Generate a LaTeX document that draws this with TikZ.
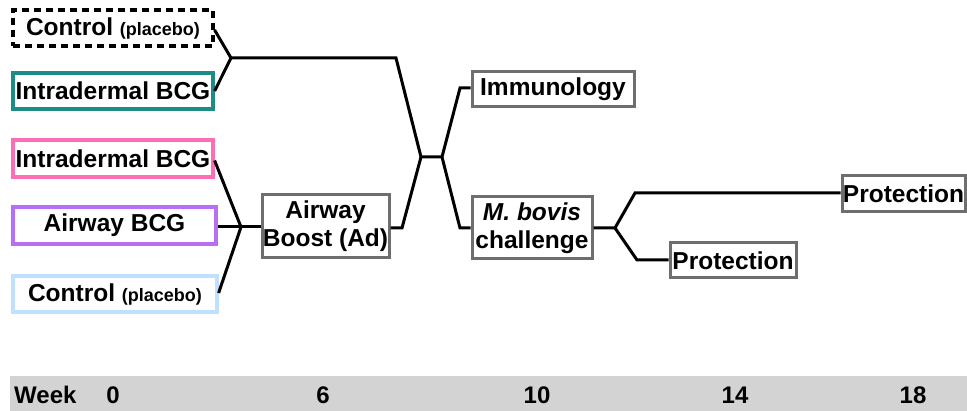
\documentclass[tikz,border=0pt]{standalone}
\usepackage{fontspec}
\setmainfont{Liberation Sans}
\definecolor{tealc}{HTML}{1E8C86}
\definecolor{pinkc}{HTML}{FF6EB4}
\definecolor{purplec}{HTML}{B86EF5}
\definecolor{bluec}{HTML}{BFE0FF}
\definecolor{boxgray}{HTML}{6E6E6E}
\definecolor{barc}{HTML}{D3D3D3}
\begin{document}
\begin{tikzpicture}[x=1pt,y=-1pt,
  box/.style={draw=boxgray,line width=3pt,fill=white,inner sep=0pt,align=center,
    font=\fontsize{24.5}{28}\selectfont\bfseries},
  grp/.style={box,line width=3.2pt},
  conn/.style={line width=3pt,black,line join=miter},
  wk/.style={font=\fontsize{24}{26}\selectfont\bfseries,inner sep=0pt}]
\useasboundingbox (0,0) rectangle (967,411);
% week bar
\fill[barc] (10,376) rectangle (967,411);
\node[wk,anchor=west] (week) at (14,395) {Week};
\node[wk] (w0) at (113,395) {0};
\node[wk] (w6) at (323,395) {6};
\node[wk] (w10) at (537,395) {10};
\node[wk] (w14) at (735,395) {14};
\node[wk] (w18) at (913,395) {18};
% group boxes
\node[grp,draw=black,dashed,dash pattern=on 7pt off 5pt,minimum width=200pt,minimum height=36pt] (c1) at (113,28) {Control {\fontsize{18}{20}\selectfont(placebo)}};
\node[grp,draw=tealc,minimum width=200pt,minimum height=36pt] (id1) at (113,91) {Intradermal BCG};
\node[grp,draw=pinkc,minimum width=200pt,minimum height=37pt] (id2) at (113,158.5) {Intradermal BCG};
\node[grp,draw=purplec,minimum width=203pt,minimum height=37pt] (ab) at (114.5,225.5) {Airway BCG};
\node[grp,draw=bluec,minimum width=204pt,minimum height=36pt] (c2) at (115,294) {Control {\fontsize{18}{20}\selectfont(placebo)}};
% other boxes
\node[box,minimum width=127pt,minimum height=63pt] (boost) at (325.5,226.5) {Airway\\Boost (Ad)};
\node[box,minimum width=162pt,minimum height=35pt] (immu) at (553,89.5) {Immunology};
\node[box,minimum width=120pt,minimum height=62pt] (mb) at (532,228) {\textit{M. bovis}\\challenge};
\node[box,minimum width=123pt,minimum height=36pt] (p1) at (903.5,194) {Protection};
\node[box,minimum width=126pt,minimum height=35pt] (p2) at (733,260.5) {Protection};
% junction coordinates
\coordinate (J1) at (231,58);
\coordinate (K1) at (396,58);
\coordinate (J2) at (421,157);
\coordinate (J3) at (442,157);
\coordinate (Ki) at (460,88);
\coordinate (Km) at (460,228);
\coordinate (Kb) at (402,228);
\coordinate (J4) at (241,227);
\coordinate (J5) at (615,228);
\coordinate (Kp1) at (635,193);
\coordinate (Kp2) at (637,260);
% connectors
\draw[conn] (c1.east) ++(0,2) -- (J1);
\draw[conn] (id1.east) -- (J1) -- (K1) -- (J2) -- (J3);
\draw[conn] (boost.east |- Kb) -- (Kb) -- (J2);
\draw[conn] (J3) -- (Ki) -- (immu.west |- Ki);
\draw[conn] (J3) -- (Km) -- (mb.west |- Km);
\draw[conn] (id2.east) ++(0,2) -- (J4);
\draw[conn] (ab.east |- J4) -- (J4) -- (boost.west |- J4);
\draw[conn] (c2.east) ++(0,-1) -- (J4);
\draw[conn] (mb.east |- J5) -- (J5) -- (Kp1) -- (p1.west |- Kp1);
\draw[conn] (J5) -- (Kp2) -- (p2.west |- Kp2);
\end{tikzpicture}
\end{document}
